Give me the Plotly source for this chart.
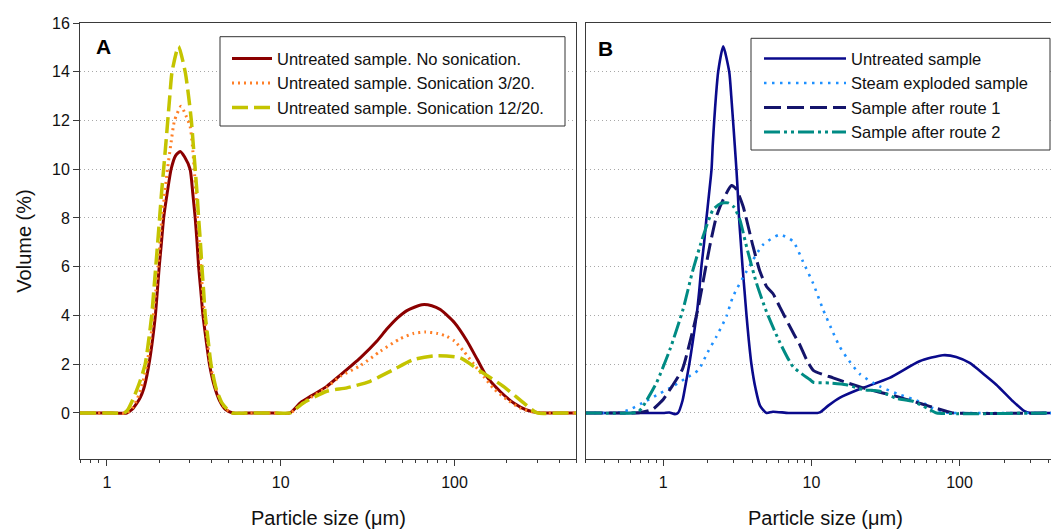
import math
import plotly.graph_objects as go

# ---------------- Panel A data (particle size in um, volume in %) ----------------
a1_x = [0.7, 1.0, 1.30, 1.40, 1.49, 1.56, 1.63, 1.70, 1.76, 1.83, 1.90, 1.95, 2.00, 2.06, 2.12, 2.22, 2.34,
        2.48, 2.64, 2.80, 3.01, 3.12, 3.22, 3.30, 3.37, 3.47, 3.57, 3.72, 3.89, 4.15, 4.45, 4.8, 5.3,
        7.0, 9.0, 11.3, 13.0, 15.0, 18.4, 22.0, 28.7, 35.8, 40.9, 47.0, 53.2, 64.9, 74.0, 82.8, 100, 118,
        135, 153, 185, 219, 260, 311, 400, 500]
a1_y = [0, 0, 0, 0.15, 0.41, 0.65, 1.0, 1.55, 2.15, 3.0, 4.0, 5.0, 6.0, 7.0, 8.0, 9.0, 10.0,
        10.55, 10.73, 10.5, 10.0, 9.0, 8.0, 7.0, 6.0, 5.0, 4.0, 3.0, 2.0, 1.1, 0.5, 0.15, 0,
        0, 0, 0, 0.42, 0.7, 1.09, 1.55, 2.26, 2.95, 3.45, 3.9, 4.2, 4.44, 4.40, 4.24, 3.7, 2.95,
        2.2, 1.5, 0.85, 0.41, 0.12, 0, 0, 0]

a2_x = [0.7, 1.0, 1.30, 1.40, 1.50, 1.60, 1.70, 1.78, 1.85, 1.91, 1.97, 2.02, 2.07, 2.15, 2.23, 2.33, 2.45,
        2.67, 2.85, 3.01, 3.10, 3.18, 3.25, 3.32, 3.40, 3.47, 3.55, 3.64, 3.78, 3.93, 4.2, 4.5, 4.85, 5.33,
        7.0, 9.0, 11.3, 13.5, 14.8, 18.4, 22.0, 28.7, 37.4, 48.8, 58.0, 67.8, 80.0, 90.4, 100, 113,
        129, 147, 168, 200, 239, 280, 311, 400, 500]
a2_y = [0, 0, 0, 0.2, 0.6, 1.2, 2.0, 3.0, 4.0, 5.0, 6.0, 7.0, 8.0, 9.0, 10.0, 11.0, 12.0,
        12.58, 12.2, 11.76, 11.0, 10.0, 9.0, 8.0, 7.0, 6.0, 5.0, 4.0, 3.0, 2.0, 1.1, 0.5, 0.15, 0,
        0, 0, 0, 0.42, 0.62, 1.05, 1.5, 1.94, 2.53, 3.05, 3.26, 3.32, 3.26, 3.14, 2.95, 2.53,
        2.0, 1.5, 1.0, 0.55, 0.2, 0.05, 0, 0, 0]

a3_x = [0.7, 1.0, 1.25, 1.31, 1.42, 1.55, 1.66, 1.74, 1.81, 1.86, 1.91, 1.96, 2.01, 2.06, 2.12, 2.18, 2.24,
        2.30, 2.37, 2.58, 2.82, 2.95, 3.06, 3.14, 3.22, 3.30, 3.37, 3.45, 3.52, 3.60, 3.68, 3.82, 3.97,
        4.25, 4.6, 5.0, 5.24, 7.0, 9.0, 11.3, 13.5, 18.4, 24.0, 32.7, 44.6, 58.1, 79.2, 108, 141, 191,
        250, 298, 400, 500]
a3_y = [0, 0, 0, 0.1, 0.6, 1.3, 2.0, 3.0, 4.0, 5.0, 6.0, 7.0, 8.0, 9.0, 10.0, 11.0, 12.0,
        13.0, 14.0, 15.04, 14.0, 13.0, 12.0, 11.0, 10.0, 9.0, 8.0, 7.0, 6.0, 5.0, 4.0, 3.0, 2.0,
        1.0, 0.4, 0.1, 0, 0, 0, 0, 0.41, 0.89, 1.03, 1.30, 1.78, 2.19, 2.35, 2.26, 1.71, 1.09,
        0.41, 0, 0, 0]

# ---------------- Panel B data ----------------
b1_x = [0.3, 0.6, 1.0, 1.1, 1.2, 1.26, 1.35, 1.42, 1.50, 1.59, 1.68, 1.75, 1.81, 1.89, 1.96, 2.04, 2.12,
        2.16, 2.21, 2.27, 2.35, 2.54, 2.79, 2.88, 2.96, 3.04, 3.12, 3.19, 3.25, 3.34, 3.43, 3.54, 3.65,
        3.78, 3.94, 4.2, 4.5, 4.98, 5.5, 7.0, 9.0, 11.0, 11.4, 13.0, 15.5, 21.2, 33.7, 53.7, 77.1, 95,
        117, 145, 177, 229, 274, 300, 414]
b1_y = [0, 0, 0, 0.02, -0.05, 0, 0.5, 1.2, 2.0, 3.0, 4.0, 5.0, 6.0, 7.0, 8.0, 9.0, 10.0,
        11.0, 12.0, 13.0, 14.0, 15.04, 14.0, 13.0, 12.0, 11.0, 10.0, 9.0, 8.0, 7.0, 6.0, 5.0, 4.0,
        3.0, 2.0, 1.0, 0.3, 0, 0.05, 0, 0, 0, 0.02, 0.3, 0.62, 0.98, 1.44, 2.12, 2.37, 2.3,
        2.05, 1.6, 1.16, 0.48, 0.07, 0, 0]

b2_x = [0.3, 0.45, 0.51, 0.6, 0.77, 0.95, 1.17, 1.4, 1.72, 2.0, 2.29, 2.67, 2.96, 3.65, 4.72, 6.12, 7.52,
        8.79, 10.3, 12.0, 14.0, 15.5, 17.2, 21.2, 28.9, 39.4, 48.4, 59.6, 66.0, 81.3, 90, 414]
b2_y = [0, 0, 0.02, 0.15, 0.5, 0.8, 1.1, 1.4, 1.75, 2.5, 3.14, 3.96, 4.78, 5.81, 6.9, 7.31, 7.04,
        6.2, 5.3, 4.24, 3.3, 2.73, 2.3, 1.6, 1.09, 0.75, 0.57, 0.35, 0.2, 0.02, 0, 0]

b3_x = [0.3, 0.6, 0.70, 0.85, 0.95, 1.0, 1.15, 1.35, 1.5, 1.72, 1.9, 2.06, 2.29, 2.54, 2.89, 3.1, 3.46,
        4.04, 4.5, 4.98, 5.5, 6.12, 7.52, 8.35, 9.26, 10.3, 14.0, 17.2, 22.3, 28.9, 37.4, 48.4, 62.8,
        81.3, 90, 414]
b3_y = [0, 0, 0.02, 0.15, 0.41, 0.55, 1.1, 1.8, 2.8, 4.3, 5.7, 6.83, 8.07, 8.75, 9.33, 9.2, 8.48,
        6.83, 5.8, 5.19, 4.9, 4.35, 3.3, 2.8, 2.2, 1.75, 1.44, 1.25, 1.03, 0.85, 0.68, 0.48, 0.27,
        0.07, 0, 0]

b4_x = [0.3, 0.62, 0.68, 0.73, 0.90, 1.11, 1.36, 1.59, 1.86, 2.17, 2.45, 2.74, 3.0, 3.29, 3.65, 4.26,
        4.98, 6.12, 7.52, 9.76, 10.3, 13.3, 17.2, 22.3, 28.9, 37.4, 48.4, 66.0, 70, 414]
b4_y = [0, 0, 0.05, 0.27, 1.23, 2.6, 4.24, 5.88, 7.25, 8.34, 8.6, 8.62, 8.45, 7.93, 6.83, 5.33,
        4.15, 2.9, 1.9, 1.37, 1.26, 1.23, 1.16, 0.96, 0.89, 0.6, 0.48, 0.07, 0, 0]

names_a = ["Untreated sample. No sonication.",
           "Untreated sample. Sonication 3/20.",
           "Untreated sample. Sonication 12/20."]
names_b = ["Untreated sample", "Steam exploded sample",
           "Sample after route 1", "Sample after route 2"]

x_ticks = [1, 10, 100]
x_minor_a = [0.7, 0.8, 0.9, 2, 3, 4, 5, 6, 7, 8, 9, 20, 30, 40, 50, 60, 70, 80, 90, 200, 300, 400, 500]
x_minor_b = [0.3, 0.4, 0.5, 0.6, 0.7, 0.8, 0.9, 2, 3, 4, 5, 6, 7, 8, 9, 20, 30, 40, 50, 60, 70, 80, 90,
             200, 300, 400]
y_ticks = [0, 2, 4, 6, 8, 10, 12, 14, 16]
x_title = "Particle size (μm)"
y_title = "Volume (%)"

FONT = "Liberation Sans, Arial, sans-serif"
TXT = "#111111"
LINE = "#3a3a3a"

fig = go.Figure()


def add(x, y, name, color, width, dash, xa, ya, leg):
    fig.add_trace(go.Scatter(
        x=x, y=y, name=name, mode="lines",
        line=dict(color=color, width=width, dash=dash, shape="spline", smoothing=0.6),
        xaxis=xa, yaxis=ya, legend=leg))


add(a1_x, a1_y, names_a[0], "#8B0000", 3, "solid", "x", "y", "legend")
add(a2_x, a2_y, names_a[1], "#FF7F27", 3, "2px,4px", "x", "y", "legend")
add(a3_x, a3_y, names_a[2], "#C4C400", 3.5, "16px,6px", "x", "y", "legend")

add(b1_x, b1_y, names_b[0], "#0A0A8C", 2.6, "solid", "x2", "y2", "legend2")
add(b2_x, b2_y, names_b[1], "#1E90FF", 2.6, "2.5px,5.5px", "x2", "y2", "legend2")
add(b3_x, b3_y, names_b[2], "#14146B", 3, "17px,6px", "x2", "y2", "legend2")
add(b4_x, b4_y, names_b[3], "#008B84", 3, "16px,4px,3px,4px,3px,4px", "x2", "y2", "legend2")

L, R, T, B = 80, 1, 23, 71
W, H = 1052, 530
pw = W - L - R
ph = H - T - B


def px_x(p):
    return (p - L) / pw


def px_y(p):
    return (H - B - p) / ph


tickfont = dict(size=16, color=TXT, family=FONT)
grid = dict(showgrid=True, gridcolor="#a8a8a8", gridwidth=1, griddash="1px,3px")

fig.update_layout(
    width=W, height=H,
    margin=dict(l=L, r=R, t=T, b=B, pad=0),
    paper_bgcolor="white", plot_bgcolor="white",
    font=dict(family=FONT, color=TXT),
    xaxis=dict(type="log", range=[math.log10(0.7), math.log10(500)], domain=[0, px_x(576)],
               anchor="y", tickvals=x_ticks, ticktext=[str(v) for v in x_ticks],
               ticks="outside", ticklen=6, tickcolor=LINE, showgrid=False, ticklabelstandoff=3,
               minor=dict(tickmode="array", tickvals=x_minor_a, ticks="outside", ticklen=3,
                          tickcolor=LINE, showgrid=False),
               showline=True, linecolor=LINE, linewidth=1, mirror=True, zeroline=False,
               tickfont=tickfont),
    yaxis=dict(range=[-1.89, 16], domain=[0, 1], anchor="x", tickvals=y_ticks,
               ticks="outside", ticklen=6, tickcolor=LINE, **grid,
               title=dict(text=y_title, font=dict(size=20, family=FONT, color=TXT)),
               showline=True, linecolor=LINE, linewidth=1, mirror=True, zeroline=False,
               tickfont=tickfont),
    xaxis2=dict(type="log", range=[math.log10(0.3), math.log10(414)], domain=[px_x(585.7), 1],
                anchor="y2", tickvals=x_ticks, ticktext=[str(v) for v in x_ticks],
                ticks="outside", ticklen=6, tickcolor=LINE, showgrid=False, ticklabelstandoff=3,
                minor=dict(tickmode="array", tickvals=x_minor_b, ticks="outside", ticklen=3,
                           tickcolor=LINE, showgrid=False),
                showline=True, linecolor=LINE, linewidth=1, mirror=True, zeroline=False,
                tickfont=tickfont),
    yaxis2=dict(range=[-1.89, 16], domain=[0, 1], anchor="x2", tickvals=y_ticks,
                showticklabels=False, ticks="", **grid,
                showline=True, linecolor=LINE, linewidth=1, mirror=False, zeroline=False),
    legend=dict(x=px_x(227), y=px_y(41.3), xanchor="left", yanchor="top",
                borderwidth=0, bgcolor="rgba(0,0,0,0)",
                font=dict(size=16.5, family=FONT, color=TXT), itemwidth=40, tracegroupgap=0),
    legend2=dict(x=px_x(759), y=px_y(41.3), xanchor="left", yanchor="top",
                 borderwidth=0, bgcolor="rgba(0,0,0,0)",
                 font=dict(size=16.5, family=FONT, color=TXT), itemwidth=82, tracegroupgap=0),
    shapes=[
        dict(type="rect", xref="paper", yref="paper", x0=px_x(220), x1=px_x(565),
             y0=px_y(126), y1=px_y(36.7), line=dict(color="#333333", width=1),
             fillcolor="white", layer="above"),
        dict(type="rect", xref="paper", yref="paper", x0=px_x(751), x1=px_x(1050),
             y0=px_y(150), y1=px_y(38.3), line=dict(color="#333333", width=1),
             fillcolor="white", layer="above"),
    ],
    annotations=[
        dict(text="<b>A</b>", x=px_x(103.3), y=px_y(46.7), xref="paper", yref="paper",
             xanchor="center", yanchor="middle", showarrow=False,
             font=dict(size=21, family=FONT, color="#000")),
        dict(text="<b>B</b>", x=px_x(605), y=px_y(49), xref="paper", yref="paper",
             xanchor="center", yanchor="middle", showarrow=False,
             font=dict(size=21, family=FONT, color="#000")),
        dict(text=x_title, x=px_x(328.3), y=px_y(518), xref="paper", yref="paper",
             xanchor="center", yanchor="middle", showarrow=False,
             font=dict(size=20, family=FONT, color=TXT)),
        dict(text=x_title, x=px_x(825), y=px_y(518), xref="paper", yref="paper",
             xanchor="center", yanchor="middle", showarrow=False,
             font=dict(size=20, family=FONT, color=TXT)),
    ],
)

fig.write_html("out.html")
